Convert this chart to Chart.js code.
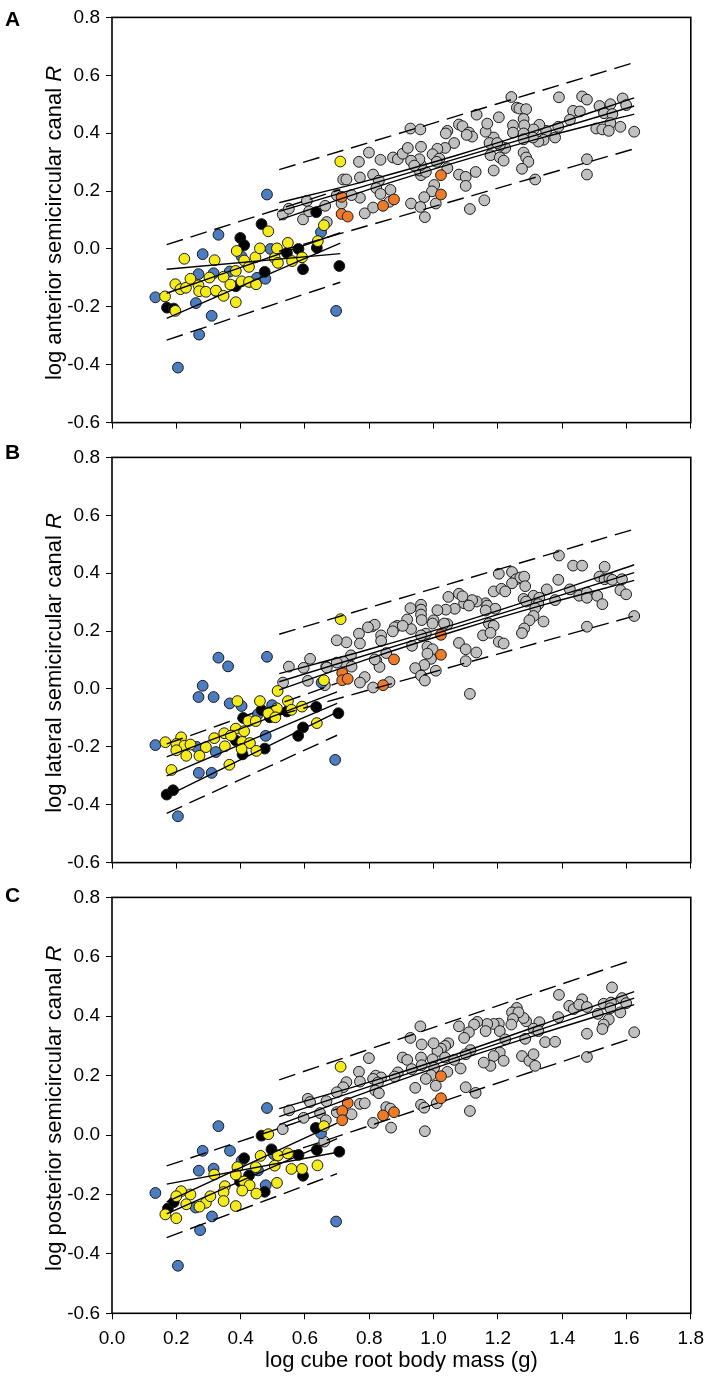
<!DOCTYPE html>
<html lang="en">
  <head>
    <meta charset="UTF-8" />
    <title>Semicircular canal radius vs body mass</title>
    <style>
      * {
        margin: 0;
        padding: 0;
        box-sizing: border-box;
      }
      body {
        width: 712px;
        height: 1381px;
        background: #fff;
        position: relative;
        overflow: hidden;
        font-family: "Liberation Sans", Arial, sans-serif;
      }
      .panel {
        position: absolute;
        left: 0;
        width: 712px;
      }
      .letter {
        position: absolute;
        left: 5px;
        font-weight: bold;
        font-size: 21px;
        line-height: 21px;
        color: #000;
      }
    </style>
  </head>
  <body>
    <div class="panel" style="top: 0; height: 440px"><canvas id="chartA"></canvas></div>
    <div class="panel" style="top: 440px; height: 440px"><canvas id="chartB"></canvas></div>
    <div class="panel" style="top: 880px; height: 501px"><canvas id="chartC"></canvas></div>
    <div class="letter" style="top: 8px">A</div>
    <div class="letter" style="top: 441px">B</div>
    <div class="letter" style="top: 884px">C</div>

    <script src="https://cdn.jsdelivr.net/npm/chart.js"></script>
    <script>
      // ---- panel A : anterior canal ----
      const A_grey = [[0.531,0.119],[0.550,0.139],[0.594,0.102],[0.606,0.166],[0.613,0.130],[0.668,0.093],
        [1.242,0.525],[1.390,0.524],[1.462,0.527],[1.477,0.516],[1.134,0.464],[1.203,0.455],[1.259,0.488],[1.267,0.485],
        [1.288,0.483],[1.280,0.449],[1.434,0.477],[1.455,0.475],[1.516,0.494],[1.550,0.500],[1.588,0.520],[1.599,0.497],
        [1.530,0.469],[1.556,0.466],[1.550,0.435],[1.506,0.416],[1.525,0.413],[1.545,0.408],[1.581,0.422],[1.624,0.405],
        [1.424,0.446],[1.388,0.422],[1.378,0.385],[1.350,0.408],[1.329,0.429],[1.311,0.413],[1.342,0.377],[1.326,0.371],
        [1.309,0.385],[1.282,0.427],[1.280,0.399],[1.247,0.427],[1.247,0.402],[1.280,0.379],[1.223,0.349],[1.206,0.357],
        [1.187,0.385],[1.162,0.405],[1.167,0.433],[1.174,0.366],[1.198,0.366],[1.177,0.324],[1.206,0.316],[1.218,0.305],
        [1.280,0.333],[1.288,0.316],[1.295,0.301],[1.275,0.277],[1.316,0.240],[1.187,0.271],[1.131,0.266],[1.079,0.430],
        [1.090,0.424],[1.110,0.402],[1.120,0.388],[1.103,0.394],[1.043,0.408],[1.038,0.399],[1.064,0.366],[1.036,0.349],
        [1.012,0.346],[0.997,0.327],[1.018,0.312],[1.010,0.301],[1.079,0.257],[1.100,0.249],[1.100,0.218],[1.043,0.279],
        [1.002,0.221],[0.995,0.199],[1.007,0.157],[0.971,0.179],[0.961,0.255],[0.956,0.271],[0.976,0.266],[0.961,0.290],
        [0.956,0.310],[0.961,0.353],[0.930,0.305],[0.928,0.416],[0.959,0.413],[0.874,0.316],[0.889,0.310],[0.904,0.329],
        [0.920,0.349],[0.940,0.288],[0.799,0.333],[0.768,0.301],[0.835,0.308],[0.812,0.257],[0.830,0.236],[0.771,0.247],
        [0.719,0.240],[0.729,0.240],[0.822,0.210],[0.866,0.204],[0.835,0.190],[0.863,0.163],[0.786,0.123],[0.812,0.143],
        [0.771,0.177],[0.745,0.186],[0.699,0.186],[0.714,0.157],[0.663,0.149],[0.930,0.157],[0.959,0.145],[0.973,0.110],
        [1.113,0.138],[1.158,0.168],[1.477,0.257],[1.477,0.310]];
      const A_orange = [[0.714,0.180],[0.714,0.121],[0.733,0.112],[0.843,0.149],[0.877,0.171],[1.023,0.255],[1.023,0.188]];
      const A_blue = [[0.135,-0.167],[0.282,-0.018],[0.331,0.049],[0.482,0.188],[0.261,-0.187],[0.310,-0.231],[0.269,-0.087],
        [0.316,-0.084],[0.324,-0.146],[0.403,-0.026],[0.366,-0.078],[0.451,-0.100],[0.477,-0.103],[0.493,0.000],[0.650,0.058],
        [0.697,-0.214],[0.271,-0.296],[0.205,-0.410]];
      const A_black = [[0.171,-0.203],[0.192,-0.206],[0.399,0.038],[0.411,0.013],[0.465,0.086],[0.385,-0.129],[0.475,-0.079],
        [0.544,-0.014],[0.580,0.000],[0.594,-0.070],[0.635,0.127],[0.637,0.004],[0.707,-0.059]];
      const A_yellow = [[0.165,-0.164],[0.197,-0.214],[0.197,-0.122],[0.213,-0.139],[0.225,-0.034],[0.230,-0.134],[0.244,-0.103],
        [0.269,-0.126],[0.271,-0.146],[0.292,-0.148],[0.303,-0.099],[0.319,-0.039],[0.323,-0.144],[0.347,-0.162],[0.347,-0.096],
        [0.368,-0.123],[0.385,-0.184],[0.385,-0.076],[0.388,-0.007],[0.403,-0.112],[0.411,-0.040],[0.426,-0.114],[0.426,-0.062],
        [0.446,-0.029],[0.448,-0.122],[0.460,0.002],[0.486,0.061],[0.506,-0.031],[0.513,0.002],[0.516,-0.048],[0.547,0.021],
        [0.560,-0.042],[0.591,-0.029],[0.640,0.027],[0.659,0.082],[0.710,0.302]];
      const A_smallUpper95 = [[0.17,0.015],[0.71,0.205]];
      const A_smallLower95 = [[0.17,-0.315],[0.71,-0.115]];
      const A_smallFitHigh = [[0.17,-0.070],[0.71,-0.016]];
      const A_smallFit = [[0.17,-0.153],[0.71,0.056]];
      const A_smallFitLow = [[0.17,-0.240],[0.71,0.020]];
      const A_bigUpper95 = [[0.52,0.274],[1.624,0.644]];
      const A_bigLower95 = [[0.52,-0.008],[1.624,0.346]];
      const A_bigFit = [[0.52,0.130],[1.624,0.494]];
      const A_bigCIHigh = [[0.52,0.160],[0.80,0.238],[1.07,0.323],[1.35,0.420],[1.624,0.522]];
      const A_bigCILow = [[0.52,0.100],[0.80,0.206],[1.07,0.299],[1.35,0.388],[1.624,0.466]];

      // ---- panel B : lateral canal ----
      const B_grey = [[0.550,0.077],[0.596,0.073],[0.616,0.104],[0.666,0.077],[0.532,0.022],[0.609,0.028],[0.662,0.013],[0.809,0.216],
        [1.390,0.461],[1.434,0.426],[1.462,0.426],[1.532,0.422],[1.203,0.398],[1.244,0.404],[1.257,0.379],[1.270,0.385],
        [1.282,0.388],[1.285,0.355],[1.244,0.365],[1.187,0.337],[1.211,0.346],[1.223,0.337],[1.388,0.377],[1.352,0.344],
        [1.424,0.344],[1.453,0.322],[1.477,0.333],[1.477,0.315],[1.509,0.322],[1.525,0.293],[1.516,0.388],[1.532,0.379],
        [1.547,0.382],[1.556,0.377],[1.586,0.379],[1.581,0.341],[1.599,0.327],[1.624,0.252],[1.477,0.215],[1.311,0.322],
        [1.329,0.315],[1.280,0.311],[1.288,0.302],[1.378,0.307],[1.326,0.293],[1.316,0.279],[1.311,0.252],[1.298,0.237],
        [1.282,0.209],[1.275,0.193],[1.342,0.233],[1.162,0.296],[1.167,0.288],[1.192,0.277],[1.162,0.271],[1.134,0.302],
        [1.120,0.307],[1.095,0.296],[1.110,0.288],[1.079,0.329],[1.090,0.320],[1.046,0.318],[1.066,0.277],[1.038,0.274],
        [1.012,0.272],[1.000,0.237],[1.043,0.224],[1.033,0.226],[1.172,0.226],[1.187,0.218],[1.154,0.185],[1.177,0.194],
        [1.203,0.163],[1.218,0.157],[1.079,0.159],[1.100,0.137],[1.133,0.126],[1.100,0.096],[1.113,-0.017],[0.961,0.291],
        [0.961,0.274],[0.961,0.257],[0.963,0.238],[0.928,0.279],[0.997,0.226],[0.976,0.191],[0.961,0.185],[0.930,0.207],
        [0.933,0.149],[0.918,0.240],[0.887,0.218],[0.879,0.213],[0.904,0.218],[0.873,0.199],[0.837,0.185],[0.837,0.166],
        [0.817,0.222],[0.796,0.213],[0.768,0.191],[0.771,0.157],[0.729,0.161],[0.699,0.168],[0.743,0.116],[0.719,0.094],
        [0.699,0.091],[0.668,0.074],[0.745,0.077],[0.822,0.098],[0.832,0.076],[0.853,0.124],[0.863,0.024],[0.786,0.041],
        [0.771,0.022],[0.812,0.005],[0.981,0.146],[0.997,0.137],[0.992,0.104],[0.981,0.122],[0.971,0.083],[0.943,0.072],
        [0.961,0.046],[0.973,0.029],[1.007,0.063],[0.817,0.102]];
      const B_orange = [[0.716,0.055],[0.716,0.030],[0.733,0.035],[0.877,0.102],[0.843,0.013],[1.023,0.187],[1.023,0.118]];
      const B_blue = [[0.331,0.108],[0.482,0.111],[0.361,0.078],[0.282,0.011],[0.269,-0.028],[0.316,-0.028],[0.366,-0.050],
        [0.403,-0.059],[0.498,-0.056],[0.454,-0.087],[0.478,-0.162],[0.135,-0.194],[0.263,-0.200],[0.323,-0.218],[0.652,0.022],
        [0.694,-0.245],[0.205,-0.440],[0.270,-0.290],[0.310,-0.290]];
      const B_black = [[0.408,-0.100],[0.465,-0.073],[0.491,-0.098],[0.544,-0.078],[0.635,-0.062],[0.704,-0.084],[0.594,-0.133],
        [0.579,-0.162],[0.385,-0.178],[0.475,-0.206],[0.406,-0.226],[0.170,-0.365],[0.190,-0.350]];
      const B_yellow = [[0.711,0.241],[0.659,0.030],[0.515,-0.007],[0.390,-0.042],[0.460,-0.042],[0.547,-0.042],[0.513,-0.067],
        [0.486,-0.084],[0.508,-0.098],[0.558,-0.072],[0.591,-0.061],[0.637,-0.118],[0.424,-0.111],[0.447,-0.111],[0.385,-0.137],
        [0.411,-0.146],[0.349,-0.153],[0.370,-0.161],[0.318,-0.170],[0.215,-0.167],[0.166,-0.184],[0.200,-0.190],[0.225,-0.196],
        [0.244,-0.192],[0.292,-0.201],[0.351,-0.198],[0.405,-0.183],[0.429,-0.187],[0.403,-0.207],[0.449,-0.214],[0.200,-0.212],
        [0.231,-0.231],[0.272,-0.231],[0.365,-0.262],[0.185,-0.280]];
      const B_smallUpper95 = [[0.17,-0.190],[0.70,0.020]];
      const B_smallLower95 = [[0.17,-0.430],[0.70,-0.160]];
      const B_smallCIHigh = [[0.17,-0.235],[0.70,-0.010]];
      const B_smallFit = [[0.17,-0.300],[0.70,-0.050]];
      const B_smallCILow = [[0.17,-0.370],[0.70,-0.080]];
      const B_bigUpper95 = [[0.52,0.189],[1.624,0.552]];
      const B_bigLower95 = [[0.52,-0.090],[1.624,0.252]];
      const B_bigFit = [[0.52,0.025],[1.624,0.402]];
      const B_bigCIHigh = [[0.52,0.053],[0.80,0.137],[1.07,0.225],[1.35,0.325],[1.624,0.429]];
      const B_bigCILow = [[0.52,-0.003],[0.80,0.105],[1.07,0.201],[1.35,0.293],[1.624,0.375]];

      // ---- panel C : posterior canal ----
      const C_grey = [[0.531,0.020],[0.551,0.083],[0.596,0.058],[0.609,0.122],[0.616,0.111],[0.647,0.074],[0.667,0.114],
        [0.665,0.050],[0.660,-0.022],[0.820,0.200],
        [1.555,0.497],[1.390,0.472],[1.462,0.457],[1.422,0.435],[1.436,0.424],[1.453,0.439],[1.477,0.431],[1.529,0.442],
        [1.552,0.446],[1.586,0.461],[1.599,0.444],[1.550,0.427],[1.581,0.413],[1.511,0.408],[1.545,0.389],[1.529,0.372],
        [1.525,0.357],[1.624,0.346],[1.477,0.341],[1.477,0.263],[1.388,0.397],[1.329,0.380],[1.311,0.358],[1.326,0.350],
        [1.285,0.324],[1.347,0.313],[1.378,0.314],[1.288,0.383],[1.280,0.394],[1.259,0.428],[1.244,0.413],[1.264,0.413],
        [1.247,0.391],[1.242,0.372],[1.203,0.375],[1.187,0.374],[1.167,0.374],[1.162,0.350],[1.136,0.381],[1.126,0.372],
        [1.110,0.346],[1.095,0.327],[1.079,0.366],[1.206,0.350],[1.223,0.322],[1.275,0.266],[1.298,0.250],[1.311,0.272],
        [1.316,0.233],[1.206,0.278],[1.187,0.266],[1.218,0.250],[1.177,0.233],[1.156,0.244],[1.115,0.286],[1.100,0.272],
        [1.084,0.224],[1.100,0.161],[1.131,0.142],[1.113,0.081],[1.046,0.309],[1.036,0.300],[1.023,0.291],[1.012,0.283],
        [1.000,0.309],[0.963,0.305],[0.959,0.366],[0.928,0.327],[0.904,0.261],[0.918,0.253],[0.932,0.222],[0.961,0.261],
        [0.963,0.235],[0.997,0.255],[1.002,0.227],[0.992,0.202],[0.976,0.189],[1.036,0.261],[1.043,0.213],[1.064,0.253],
        [1.007,0.166],[0.943,0.159],[0.961,0.102],[0.971,0.092],[1.010,0.107],[0.973,0.013],[0.889,0.211],[0.879,0.197],
        [0.837,0.194],[0.812,0.189],[0.827,0.177],[0.819,0.150],[0.830,0.141],[0.799,0.259],[0.768,0.213],[0.771,0.180],
        [0.729,0.178],[0.719,0.161],[0.699,0.144],[0.771,0.105],[0.786,0.107],[0.745,0.070],[0.699,0.077],[0.853,0.094],
        [0.866,0.089],[0.868,0.025],[0.812,0.041]];
      const C_orange = [[0.733,0.108],[0.716,0.081],[0.716,0.050],[0.843,0.066],[0.877,0.077],[1.023,0.198],[1.023,0.124]];
      const C_blue = [[0.135,-0.195],[0.282,-0.053],[0.331,0.030],[0.482,0.091],[0.367,-0.053],[0.270,-0.120],[0.316,-0.113],
        [0.403,-0.086],[0.454,-0.119],[0.503,-0.064],[0.478,-0.169],[0.260,-0.244],[0.311,-0.274],[0.274,-0.320],[0.650,0.006],
        [0.697,-0.291],[0.205,-0.440]];
      const C_black = [[0.465,-0.002],[0.496,-0.048],[0.634,0.024],[0.580,-0.067],[0.637,-0.050],[0.707,-0.056],[0.411,-0.078],
        [0.426,-0.136],[0.398,-0.156],[0.594,-0.137],[0.475,-0.191],[0.174,-0.247],[0.192,-0.226]];
      const C_yellow = [[0.711,0.230],[0.486,0.003],[0.659,0.030],[0.462,-0.070],[0.516,-0.069],[0.547,-0.062],[0.506,-0.103],
        [0.558,-0.114],[0.591,-0.114],[0.639,-0.102],[0.447,-0.108],[0.390,-0.108],[0.318,-0.133],[0.385,-0.133],[0.411,-0.156],
        [0.428,-0.169],[0.513,-0.161],[0.351,-0.172],[0.347,-0.192],[0.405,-0.187],[0.449,-0.197],[0.347,-0.222],[0.385,-0.239],
        [0.292,-0.228],[0.306,-0.206],[0.272,-0.241],[0.244,-0.200],[0.215,-0.189],[0.200,-0.206],[0.231,-0.233],[0.166,-0.267],
        [0.200,-0.280]];
      const C_smallUpper95 = [[0.17,-0.104],[0.70,0.088]];
      const C_smallLower95 = [[0.17,-0.345],[0.70,-0.130]];
      const C_smallFitHigh = [[0.17,-0.165],[0.71,-0.056]];
      const C_smallFit = [[0.17,-0.225],[0.70,0.040]];
      const C_smallFitLow = [[0.17,-0.265],[0.70,-0.012]];
      const C_bigUpper95 = [[0.52,0.186],[1.624,0.591]];
      const C_bigLower95 = [[0.52,-0.070],[1.624,0.328]];
      const C_bigFit = [[0.52,0.062],[1.624,0.461]];
      const C_bigCIHigh = [[0.52,0.089],[0.80,0.178],[1.07,0.272],[1.35,0.377],[1.624,0.483]];
      const C_bigCILow = [[0.52,0.035],[0.80,0.148],[1.07,0.250],[1.35,0.347],[1.624,0.439]];

      const xTicks = [0, 0.2, 0.4, 0.6, 0.8, 1.0, 1.2, 1.4, 1.6, 1.8];
      const yTicks = [-0.6, -0.4, -0.2, 0, 0.2, 0.4, 0.6, 0.8];

      const FONT = '"Liberation Sans", Arial, sans-serif';
      const TITLE_SIZE = 22;
      const colors = {
        grey: "#c0c0c0",
        orange: "#ef7b28",
        blue: "#4b7dc0",
        black: "#000000",
        yellow: "#f6eb1a",
      };

      function pts(arr) {
        return arr.map((p) => ({ x: p[0], y: p[1] }));
      }

      function lineSet(arr, dashed) {
        return {
          data: pts(arr),
          showLine: true,
          pointRadius: 0,
          borderColor: "#000",
          borderWidth: 1.4,
          borderDash: dashed ? [17, 8] : [],
          cubicInterpolationMode: "monotone",
          fill: false,
        };
      }

      function dotSet(arr, color) {
        return {
          data: pts(arr),
          showLine: false,
          pointRadius: 5.4,
          pointBackgroundColor: color,
          pointBorderColor: "#1a1a1a",
          pointBorderWidth: 1,
        };
      }

      // box round the plot area
      const boxPlugin = {
        id: "box",
        afterDraw(chart) {
          const { ctx, chartArea: a } = chart;
          ctx.save();
          ctx.strokeStyle = "#000";
          ctx.lineWidth = 1.6;
          ctx.strokeRect(a.left, a.top, a.right - a.left, a.bottom - a.top);
          ctx.restore();
        },
      };

      // y title with italic R
      const yTitlePlugin = {
        id: "yTitle",
        afterDraw(chart, args, opts) {
          const { ctx, chartArea: a } = chart;
          const cy = (a.top + a.bottom) / 2 + 3;
          ctx.save();
          ctx.translate(61, cy);
          ctx.rotate(-Math.PI / 2);
          ctx.fillStyle = "#000";
          ctx.textAlign = "left";
          ctx.textBaseline = "alphabetic";
          ctx.font = TITLE_SIZE + "px " + FONT;
          const w1 = ctx.measureText(opts.text).width;
          ctx.font = "italic " + TITLE_SIZE + "px " + FONT;
          const w2 = ctx.measureText("R").width;
          const sx = -(w1 + w2) / 2;
          ctx.font = TITLE_SIZE + "px " + FONT;
          ctx.fillText(opts.text, sx, 0);
          ctx.font = "italic " + TITLE_SIZE + "px " + FONT;
          ctx.fillText("R", sx + w1, 0);
          ctx.restore();
        },
      };

      function makeChart(id, cfg) {
        const datasets = [
          lineSet(cfg.up95, true),
          lineSet(cfg.lo95, true),
          lineSet(cfg.s1, false),
          lineSet(cfg.s2, false),
          lineSet(cfg.s3, false),
          lineSet(cfg.bUp95, true),
          lineSet(cfg.bLo95, true),
          lineSet(cfg.bFit, false),
          lineSet(cfg.bHi, false),
          lineSet(cfg.bLo, false),
          dotSet(cfg.yellow, colors.yellow),
          dotSet(cfg.black, colors.black),
          dotSet(cfg.blue, colors.blue),
          dotSet(cfg.orange, colors.orange),
          dotSet(cfg.grey, colors.grey),
        ];
        return new Chart(document.getElementById(id), {
          type: "scatter",
          data: { datasets: datasets },
          options: {
            responsive: true,
            maintainAspectRatio: false,
            animation: false,
            layout: { padding: { left: 0, right: 17, top: cfg.top, bottom: 0 } },
            plugins: {
              legend: { display: false },
              tooltip: { enabled: false },
              yTitle: { text: cfg.title },
            },
            scales: {
              x: {
                type: "linear",
                min: 0,
                max: 1.8,
                afterBuildTicks: (s) => {
                  s.ticks = xTicks.map((v) => ({ value: v }));
                },
                ticks: {
                  callback: (v) => v.toFixed(1),
                  color: cfg.showX ? "#000" : "rgba(0,0,0,0)",
                  font: { family: FONT, size: 19 },
                  padding: 8,
                  maxRotation: 0,
                  autoSkip: false,
                },
                grid: { drawOnChartArea: false, drawTicks: true, tickLength: 6, color: "#000", lineWidth: 1 },
                border: { display: false },
                title: {
                  display: cfg.showX,
                  text: "log cube root body mass (g)",
                  color: "#000",
                  font: { family: FONT, size: TITLE_SIZE },
                  padding: { top: 0, bottom: 7 },
                },
                afterFit: (s) => {
                  s.height = cfg.xh;
                },
              },
              y: {
                type: "linear",
                min: -0.6,
                max: 0.8,
                afterBuildTicks: (s) => {
                  s.ticks = yTicks.map((v) => ({ value: v }));
                },
                ticks: {
                  callback: (v) => (Math.abs(v) < 1e-9 ? "0.0" : v.toFixed(1)),
                  color: "#000",
                  font: { family: FONT, size: 19 },
                  padding: 6,
                },
                grid: { drawOnChartArea: false, drawTicks: true, tickLength: 6, color: "#000", lineWidth: 1 },
                border: { display: false },
                afterFit: (s) => {
                  s.width = 112;
                },
              },
            },
          },
          plugins: [boxPlugin, yTitlePlugin],
        });
      }

      makeChart("chartA", {
        top: 10, xh: 11, showX: false,
        title: "log anterior semicircular canal ",
        up95: A_smallUpper95, lo95: A_smallLower95,
        s1: A_smallFitHigh, s2: A_smallFit, s3: A_smallFitLow,
        bUp95: A_bigUpper95, bLo95: A_bigLower95, bFit: A_bigFit, bHi: A_bigCIHigh, bLo: A_bigCILow,
        grey: A_grey, orange: A_orange, blue: A_blue, black: A_black, yellow: A_yellow,
      });

      makeChart("chartB", {
        top: 10.5, xh: 9.5, showX: false,
        title: "log lateral semicircular canal ",
        up95: B_smallUpper95, lo95: B_smallLower95,
        s1: B_smallCIHigh, s2: B_smallFit, s3: B_smallCILow,
        bUp95: B_bigUpper95, bLo95: B_bigLower95, bFit: B_bigFit, bHi: B_bigCIHigh, bLo: B_bigCILow,
        grey: B_grey, orange: B_orange, blue: B_blue, black: B_black, yellow: B_yellow,
      });

      makeChart("chartC", {
        top: 13.3, xh: 67.7, showX: true,
        title: "log posterior semicircular canal ",
        up95: C_smallUpper95, lo95: C_smallLower95,
        s1: C_smallFitHigh, s2: C_smallFit, s3: C_smallFitLow,
        bUp95: C_bigUpper95, bLo95: C_bigLower95, bFit: C_bigFit, bHi: C_bigCIHigh, bLo: C_bigCILow,
        grey: C_grey, orange: C_orange, blue: C_blue, black: C_black, yellow: C_yellow,
      });
    </script>
  </body>
</html>
